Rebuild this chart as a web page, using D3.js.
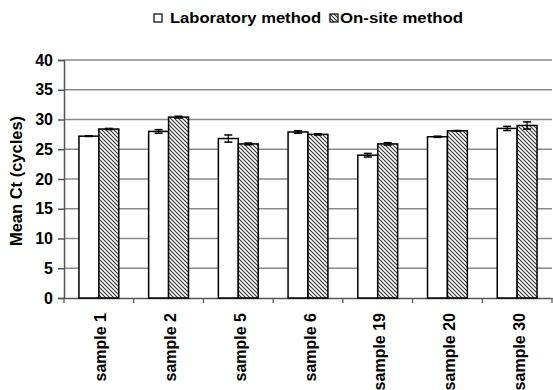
<!DOCTYPE html>
<html><head><meta charset="utf-8">
<script src="https://cdn.jsdelivr.net/npm/d3@7"></script>
<style>
body{margin:0;background:#fff;}
text{font-family:"Liberation Sans",Arial,sans-serif;font-weight:bold;fill:#000;}
</style></head>
<body><svg id="c" width="553" height="390"></svg>
<script>
const categories = ["sample 1","sample 2","sample 5","sample 6","sample 19","sample 20","sample 30"];
const seriesNames = ["Laboratory method","On-site method"];
const labValues = [27.2, 28.0, 26.8, 27.9, 24.0, 27.1, 28.5];
const labErrors = [0.05, 0.3, 0.6, 0.2, 0.3, 0.1, 0.35];
const onsiteValues = [28.4, 30.4, 25.9, 27.5, 25.9, 28.1, 29.0];
const onsiteErrors = [0.1, 0.15, 0.15, 0.1, 0.2, 0.05, 0.6];
const yTicks = [0,5,10,15,20,25,30,35,40];

const svg = d3.select("#c");
const defs = svg.append("defs");
const pat = defs.append("pattern").attr("id","hatch").attr("patternUnits","userSpaceOnUse")
  .attr("width",4).attr("height",4);
pat.append("rect").attr("width",4).attr("height",4).attr("fill","#fff");
pat.append("path").attr("d","M-1,-1 L5,5 M-1,3 L1,5 M3,-1 L5,1").attr("stroke","#333").attr("stroke-width",1.1);

const m = {left:64, right:552, top:60, bottom:298};
const x = d3.scaleBand().domain(categories).range([m.left, m.right]).paddingInner(0).paddingOuter(0);
const y = d3.scaleLinear().domain([0,40]).range([m.bottom, m.top]);
const barW = x.bandwidth()/3.5;

// gridlines
svg.append("g").selectAll("line").data(yTicks.filter(d=>d>0)).join("line")
  .attr("x1",m.left).attr("x2",m.right).attr("y1",d=>y(d)).attr("y2",d=>y(d))
  .attr("stroke","#8a8a8a").attr("stroke-width",1.5);

// y axis
const ya = svg.append("g").attr("transform",`translate(${m.left},0)`)
  .call(d3.axisLeft(y).tickValues(yTicks).tickSize(6).tickPadding(5));
ya.select(".domain").attr("stroke","#555").attr("stroke-width",1.5);
ya.selectAll(".tick line").attr("stroke","#555").attr("stroke-width",1.5);
ya.selectAll(".tick text").style("font-size","16px").style("font-family","Liberation Sans, Arial, sans-serif").style("font-weight","bold").attr("fill","#000");

// x axis
const xa = svg.append("g").attr("transform",`translate(0,${m.bottom})`)
  .call(d3.axisBottom(x).tickSize(0).tickFormat(""));
xa.select(".domain").attr("stroke","#555").attr("stroke-width",1.5);
const bounds = categories.map(c=>x(c)).concat([m.right]);
xa.selectAll(".sep").data(bounds).join("line").attr("class","sep")
  .attr("x1",d=>d).attr("x2",d=>d).attr("y1",0).attr("y2",5).attr("stroke","#555").attr("stroke-width",1.2);

svg.append("g").selectAll("text").data(categories).join("text")
  .attr("transform",d=>`translate(${x(d)+x.bandwidth()/2+2},${m.bottom+15}) rotate(-90)`)
  .attr("text-anchor","end").attr("dy","0.35em").style("font-size","16px").text(d=>d);

// bars
const series = [
  {vals:labValues, errs:labErrors, fill:"#fff", off:0.75*barW},
  {vals:onsiteValues, errs:onsiteErrors, fill:"url(#hatch)", off:1.75*barW}
];
series.forEach(s=>{
  const g = svg.append("g");
  g.selectAll("rect").data(categories).join("rect")
    .attr("x",(d)=>x(d)+s.off).attr("width",barW)
    .attr("y",(d,i)=>y(s.vals[i])).attr("height",(d,i)=>y(0)-y(s.vals[i]))
    .attr("fill",s.fill).attr("stroke","#000").attr("stroke-width",1.5);
  const eg = svg.append("g");
  categories.forEach((c,i)=>{
    const cx = x(c)+s.off+barW/2;
    const y1 = y(s.vals[i]+s.errs[i]), y2 = y(s.vals[i]-s.errs[i]);
    eg.append("line").attr("x1",cx).attr("x2",cx).attr("y1",y1).attr("y2",y2).attr("stroke","#000").attr("stroke-width",1.2);
    [y1,y2].forEach(yy=>eg.append("line").attr("x1",cx-4).attr("x2",cx+4).attr("y1",yy).attr("y2",yy).attr("stroke","#000").attr("stroke-width",1.5));
  });
});

// y title
svg.append("text").attr("transform","translate(22,181) rotate(-90)").attr("text-anchor","middle")
  .style("font-size","16.5px").text("Mean Ct (cycles)");

// legend
const lg = svg.append("g");
lg.append("rect").attr("x",154).attr("y",14).attr("width",8).attr("height",8).attr("fill","#fff").attr("stroke","#000").attr("stroke-width",1.2);
lg.append("text").attr("x",170).attr("y",23).style("font-size","15.5px")
  .attr("textLength",151).attr("lengthAdjust","spacingAndGlyphs").text(seriesNames[0]);
lg.append("rect").attr("x",330).attr("y",14).attr("width",8).attr("height",8).attr("fill","url(#hatch)").attr("stroke","#000").attr("stroke-width",1.2);
lg.append("text").attr("x",340).attr("y",23).style("font-size","15.5px")
  .attr("textLength",123).attr("lengthAdjust","spacingAndGlyphs").text(seriesNames[1]);
</script></body></html>
